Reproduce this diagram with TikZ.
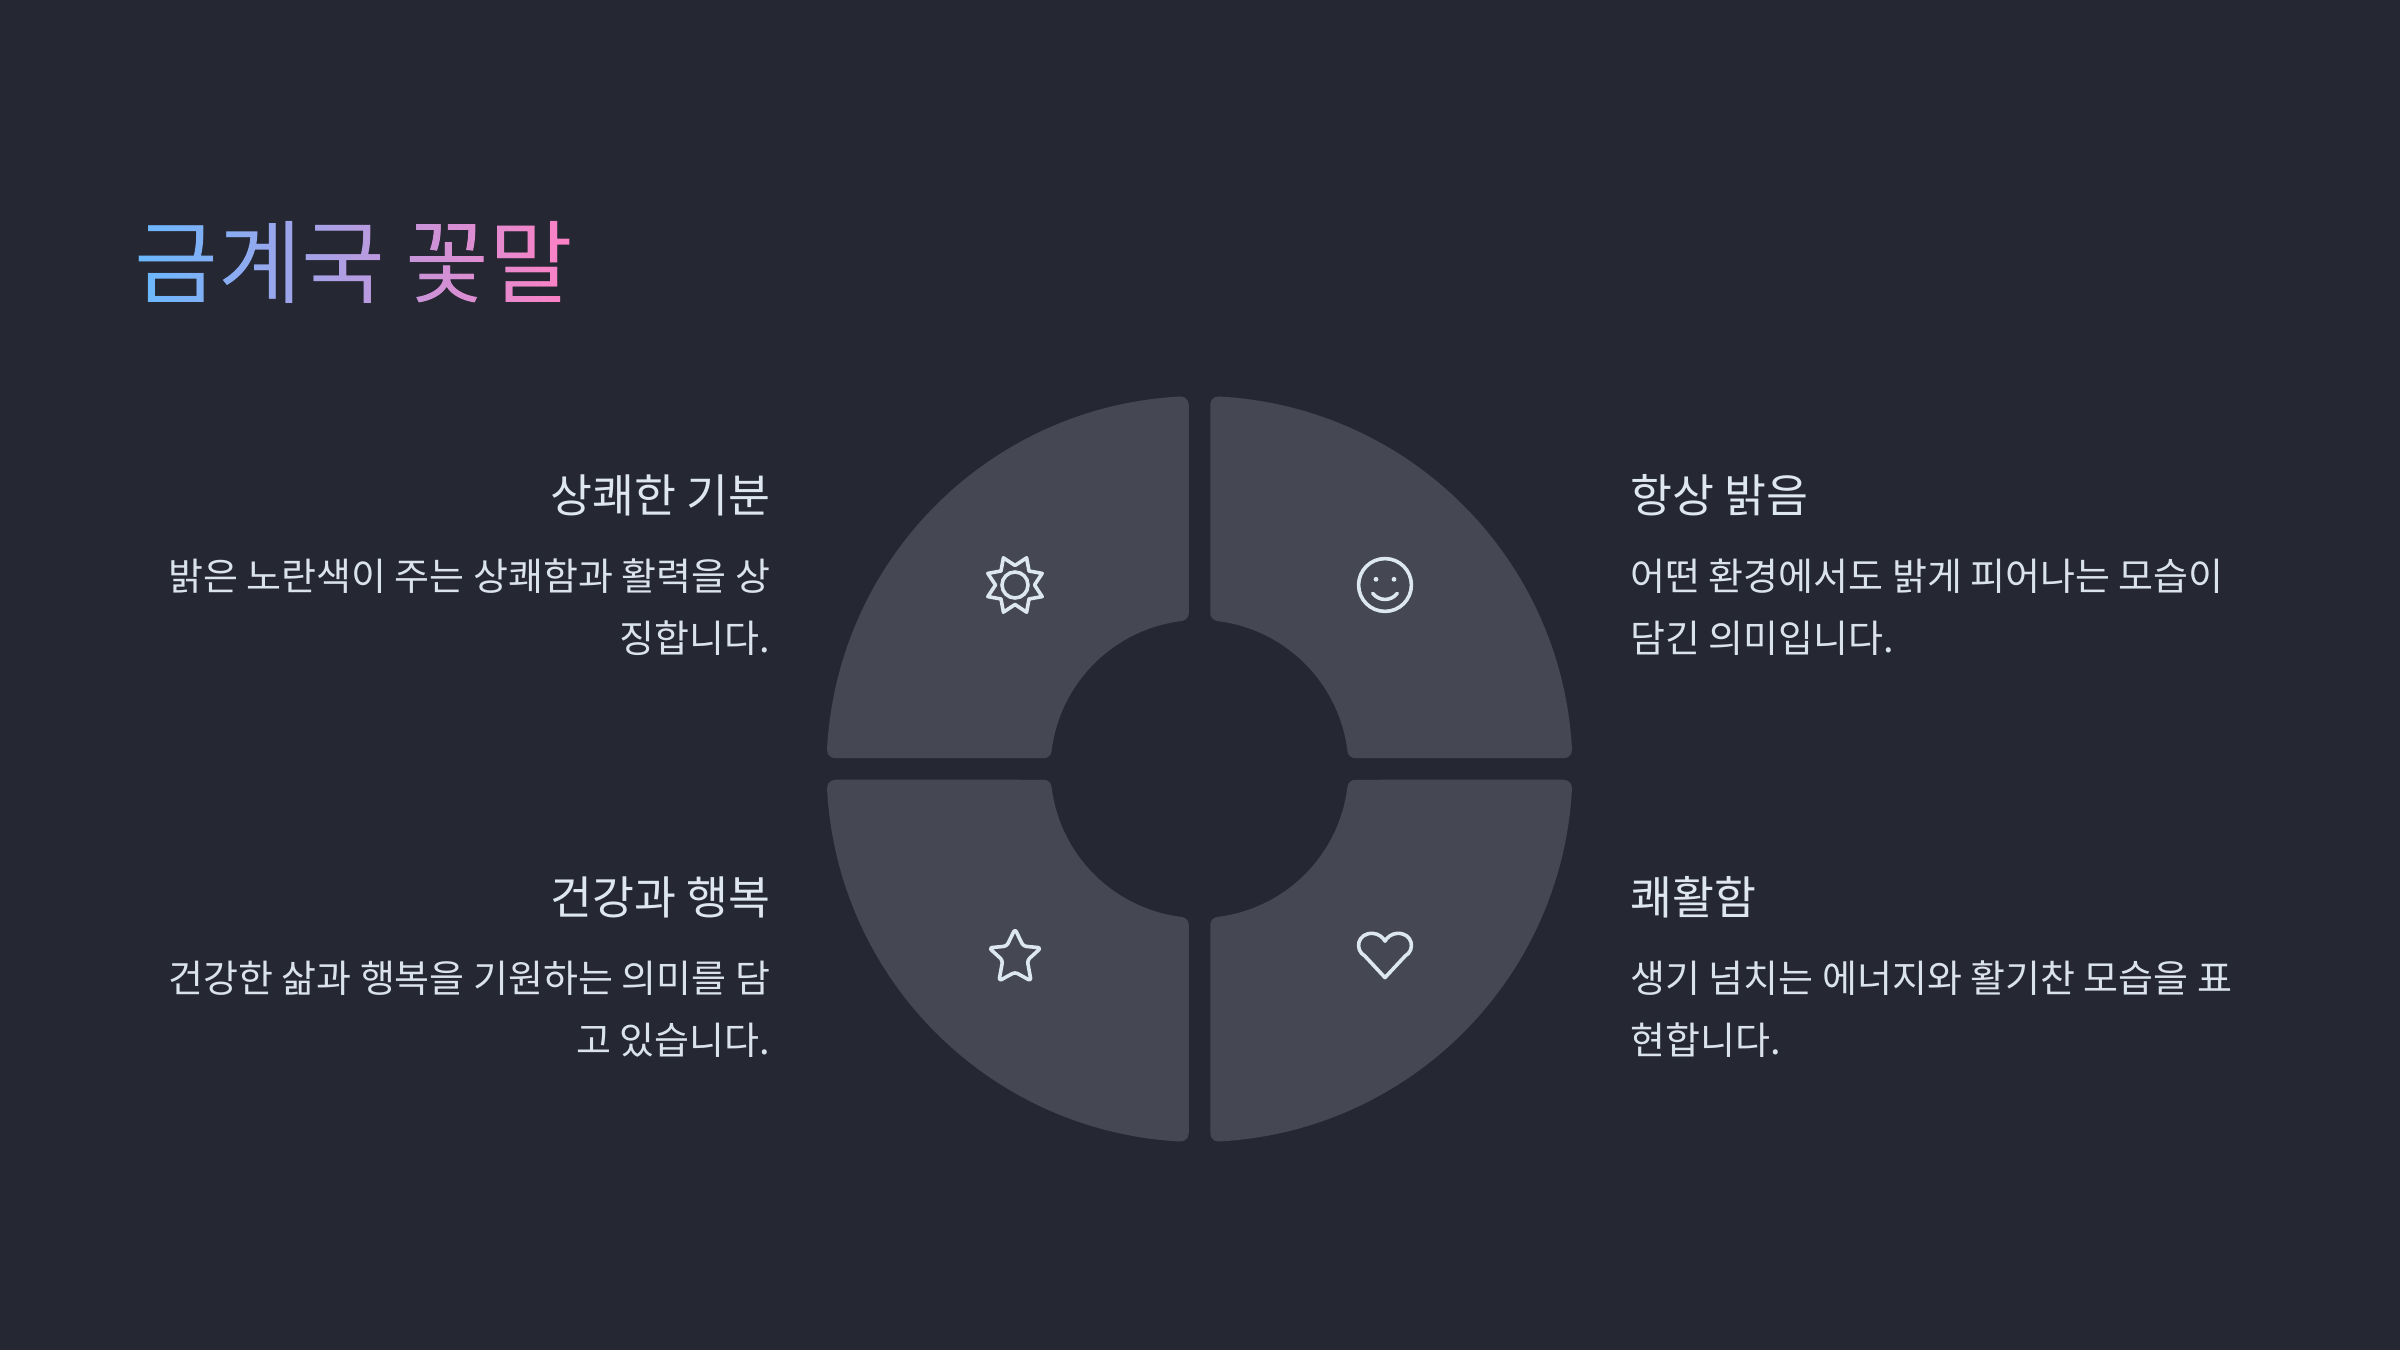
\documentclass[tikz,border=0pt]{standalone}
\usepackage{fontspec}
\usetikzlibrary{fadings}
\setmainfont{Noto Sans CJK KR}
\definecolor{bgc}{RGB}{37,39,51}
\definecolor{secc}{RGB}{69,71,82}
\definecolor{headc}{RGB}{222,230,239}
\definecolor{bodyc}{RGB}{218,226,236}
\definecolor{iconc}{RGB}{220,231,241}
\definecolor{gradl}{RGB}{104,185,255}
\definecolor{gradr}{RGB}{255,128,196}
\newcommand{\sectorshape}{
  (2.945:373) arc[start angle=2.945,end angle=87.055,radius=373]
  arc[start angle=87.055,end angle=180,radius=8]
  -- (10.75,155.88) arc[start angle=180,end angle=263.14,radius=8]
  arc[start angle=83.14,end angle=6.86,radius=149]
  arc[start angle=186.86,end angle=270,radius=8]
  -- (364.52,10.75) arc[start angle=270,end angle=362.945,radius=8] -- cycle}
\begin{tikzfadingfrompicture}[name=titlefade,x=0.5pt,y=0.5pt]
  \path (0,0) rectangle (500,120);
  \node[anchor=base west,inner sep=0pt,text=transparent!0,font=\fontsize{45.5pt}{54pt}\selectfont] at (0,24) {금계국 꽃말};
\end{tikzfadingfrompicture}
\tikzset{
  sector/.style={fill=secc,draw=none},
  headtxt/.style={inner sep=0pt,text=headc,font=\fontsize{22.8pt}{27pt}\selectfont},
  bodytxt/.style={inner sep=0pt,text=bodyc,font=\fontsize{19pt}{30pt}\selectfont},
  icon/.style={draw=iconc,line width=1.8pt,line join=round,line cap=round}
}
\begin{document}
\begin{tikzpicture}[x=0.5pt,y=0.5pt]
\useasboundingbox (0,0) rectangle (2400,1350);
\fill[bgc] (0,0) rectangle (2400,1350);
\shade[path fading=titlefade,fit fading=false,fading transform={shift={(192pt,544.5pt)}},left color=gradl,right color=gradr] (134,1020) rectangle (572,1140);
\begin{scope}[shift={(1199.5,581)}]
  \fill[sector] \sectorshape;
  \begin{scope}[xscale=-1]\fill[sector] \sectorshape;\end{scope}
  \begin{scope}[yscale=-1]\fill[sector] \sectorshape;\end{scope}
  \begin{scope}[xscale=-1,yscale=-1]\fill[sector] \sectorshape;\end{scope}
\end{scope}
% icons
\begin{scope}[shift={(1015,765)}]
  \draw[icon] (0,19.5) -- (11.6,27.2) -- (14,14) -- (27.2,11.6) -- (19.5,0) -- (27.2,-11.6) -- (14,-14) -- (11.6,-27.2) -- (0,-19.5) -- (-11.6,-27.2) -- (-14,-14) -- (-27.2,-11.6) -- (-19.5,0) -- (-27.2,11.6) -- (-14,14) -- (-11.6,27.2) -- cycle;
  \draw[icon] (0,0) circle (13);
\end{scope}
\begin{scope}[shift={(1385,765)}]
  \draw[icon] (0,0) circle (26.4);
  \fill[iconc] (-9,5.7) circle (2.4) (9,5.7) circle (2.4);
  \draw[icon] (-12.3,-8.3) .. controls (-6,-16.5) and (6,-16.5) .. (12.3,-8.3);
\end{scope}
\begin{scope}[shift={(1015,395)},scale=1.07]
  \draw[icon,rounded corners=1.5] (0,24.3) -- (7.7,8.3) -- (24.3,6.7) -- (11.5,-5) -- (15,-24.3) -- (0,-16) -- (-15,-24.3) -- (-11.5,-5) -- (-24.3,6.7) -- (-7.7,8.3) -- cycle;
\end{scope}
\begin{scope}[shift={(1385,395)},xscale=0.93,yscale=0.97]
  \draw[icon] (0,-23.3) -- (-21.7,-1) .. controls (-33,5) and (-30,23) .. (-13,22.3) .. controls (-7,22) and (-2,18) .. (0,14.3) .. controls (2,18) and (7,22) .. (13,22.3) .. controls (30,23) and (33,5) .. (21.7,-1) -- cycle;
\end{scope}
% texts
\node[headtxt,anchor=base east] (h1) at (770.5,837.5) {상쾌한 기분};
\node[bodytxt,anchor=base east] (b1a) at (770.5,759) {밝은 노란색이 주는 상쾌함과 활력을 상};
\node[bodytxt,anchor=base east] (b1b) at (770.5,697.5) {징합니다.};
\node[headtxt,anchor=base west] (h2) at (1630,837.5) {항상 밝음};
\node[bodytxt,anchor=base west] (b2a) at (1630,759) {어떤 환경에서도 밝게 피어나는 모습이};
\node[bodytxt,anchor=base west] (b2b) at (1630,697.5) {담긴 의미입니다.};
\node[headtxt,anchor=base east] (h3) at (770.5,435.5) {건강과 행복};
\node[bodytxt,anchor=base east] (b3a) at (770.5,357) {건강한 삶과 행복을 기원하는 의미를 담};
\node[bodytxt,anchor=base east] (b3b) at (770.5,295.5) {고 있습니다.};
\node[headtxt,anchor=base west] (h4) at (1630,435.5) {쾌활함};
\node[bodytxt,anchor=base west] (b4a) at (1630,357) {생기 넘치는 에너지와 활기찬 모습을 표};
\node[bodytxt,anchor=base west] (b4b) at (1630,295.5) {현합니다.};
\end{tikzpicture}
\end{document}
